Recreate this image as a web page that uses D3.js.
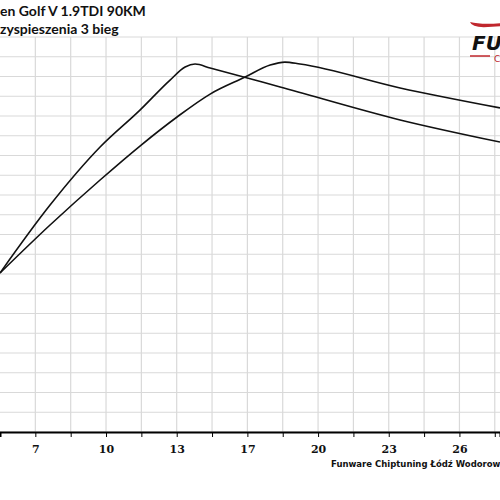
<!DOCTYPE html>
<html>
<head>
<meta charset="utf-8">
<script src="https://cdn.jsdelivr.net/npm/d3@7"></script>
<style>body{margin:0;background:#fff;} svg{display:block;}</style>
</head>
<body>
<div id="chart"></div>
<script>
// curve A (earlier peak)
var curveA = [[5.0,8.05],[7.36,11.49],[9.72,14.43],[11.60,16.30],[13.02,17.82],[13.73,18.48],[14.20,18.63],
    [14.91,18.43],[18.21,17.47],[23.87,15.80],[28.58,14.68]];
// curve B (later peak)
var curveB = [[5.0,8.05],[7.36,10.48],[9.72,12.76],[11.60,14.48],[13.35,15.95],[14.91,17.11],[16.56,17.97],
    [17.74,18.58],[18.44,18.73],[19.15,18.63],[23.87,17.42],[28.58,16.41]];
var xGrid = d3.range(1, 15).map(function(i){ return 5 + i*5/3; });
var tickLabels = ["7","10","13","17","20","23","26"];
var yGrid = d3.range(0, 21);

var W = 500, H = 500;
var svg = d3.select("#chart").append("svg").attr("width",W).attr("height",H);

var x = d3.scaleLinear().domain([5, 28.58]).range([0, 500]);
var y = d3.scaleLinear().domain([0, 20]).range([432, 37]);

// grid
svg.selectAll("line.hg").data(yGrid).enter().append("line")
    .attr("x1",0).attr("x2",W).attr("y1",function(d){return y(d);}).attr("y2",function(d){return y(d);})
    .attr("stroke","#d9d9d9").attr("stroke-width",1.2);
svg.selectAll("line.vg").data(xGrid).enter().append("line")
    .attr("x1",function(d){return x(d);}).attr("x2",function(d){return x(d);})
    .attr("y1",y(20)).attr("y2",432)
    .attr("stroke","#d9d9d9").attr("stroke-width",1.2);

// x axis
var axis = d3.axisBottom(x).tickValues(xGrid).tickSize(5)
    .tickFormat(function(d,i){ return i % 2 === 0 ? tickLabels[i/2] : ""; });
var gx = svg.append("g").attr("transform","translate(0,432)").call(axis);
gx.select(".domain").attr("stroke","#000").attr("stroke-width",2);
gx.selectAll(".tick line").attr("stroke","#000");
gx.selectAll(".tick text").attr("font-family","DejaVu Serif").attr("font-weight","bold")
    .attr("font-size","11px").attr("fill","#111").attr("dy","1.2em");

// curves
var line = d3.line().x(function(d){return x(d[0]);}).y(function(d){return y(d[1]);})
    .curve(d3.curveMonotoneX);
[curveA, curveB].forEach(function(c){
    svg.append("path").datum(c).attr("d",line)
        .attr("fill","none").attr("stroke","#111").attr("stroke-width",1.6);
});

// titles
svg.append("text").text("en Golf V 1.9TDI 90KM").attr("x",0).attr("y",16)
    .attr("font-family","Lato").attr("font-weight","bold").attr("font-size","14px").attr("fill","#111");
svg.append("text").text("zyspieszenia 3 bieg").attr("x",0).attr("y",34)
    .attr("font-family","Lato").attr("font-weight","bold").attr("font-size","14px").attr("fill","#111");

// footer
svg.append("text").text("Funware Chiptuning Łódź Wodorowanie").attr("x",331).attr("y",467)
    .attr("font-family","DejaVu Sans").attr("font-weight","bold").attr("font-size","8.5px").attr("fill","#111");

// logo
var logo = svg.append("g").attr("transform","translate(468,18)");
logo.append("path").attr("d","M2,4 Q4,10 20,9 L34,8 L34,5 Q14,7 2,4 Z").attr("fill","#c0272d");
logo.append("text").text("FU").attr("x",4).attr("y",32)
    .attr("font-family","DejaVu Sans").attr("font-weight","bold").attr("font-style","italic")
    .attr("font-size","20px").attr("fill","#111");
logo.append("line").attr("x1",2).attr("x2",22).attr("y1",38).attr("y2",38).attr("stroke","#c0272d").attr("stroke-width",1.5);
logo.append("text").text("C").attr("x",26).attr("y",44).attr("font-family","DejaVu Sans")
    .attr("font-size","9px").attr("fill","#c0272d");
</script>
</body>
</html>
